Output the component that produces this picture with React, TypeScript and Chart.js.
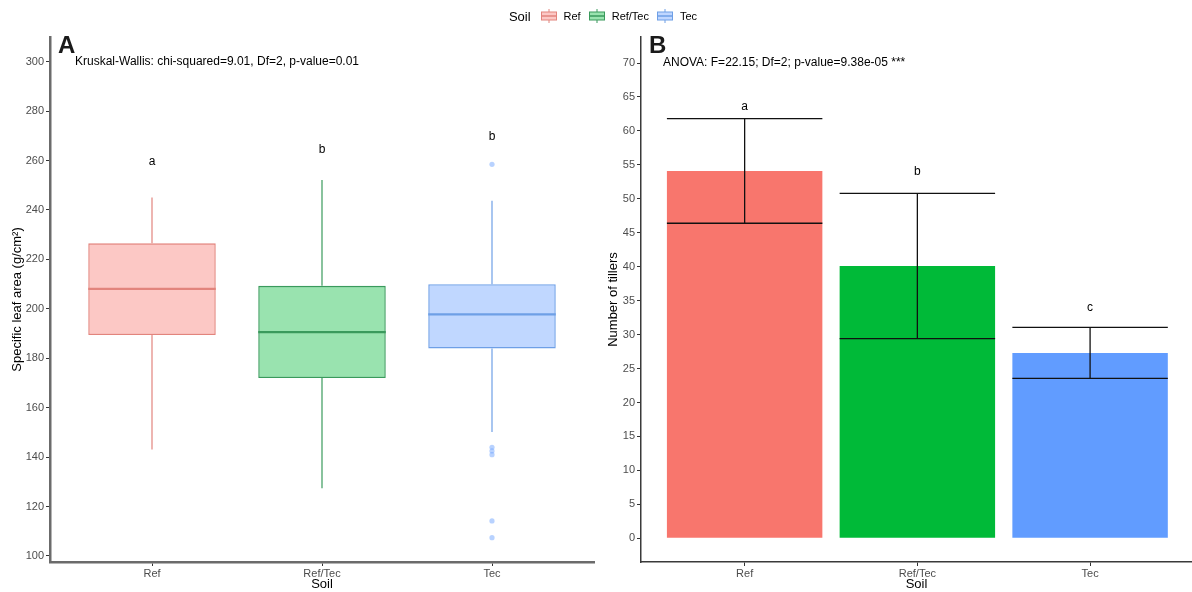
import { useEffect, useRef } from "react";
import { Chart, registerables } from "chart.js";

Chart.register(...registerables);

// Soil groups shared by both panels
const soils = ["Ref", "Ref/Tec", "Tec"];

// Panel A: specific leaf area box plot statistics (g/cm²)
const slaLowerWhisker = [143.1, 127.4, 150.2];
const slaQ1 = [189.4, 172.0, 184.0];
const slaMedian = [208.1, 190.6, 197.8];
const slaQ3 = [226.5, 209.3, 210.0];
const slaUpperWhisker = [245.1, 252.1, 243.7];
const slaOutliersTec = [258.5, 144.0, 142.5, 141.0, 114.2, 107.4];
const slaLetters = ["a", "b", "b"];
const slaLetterPos = [259.5, 264.6, 269.6];
const slaTicks = [100, 120, 140, 160, 180, 200, 220, 240, 260, 280, 300];

// Panel B: number of tillers, mean ± sd
const tillerMean = [54.1, 40.1, 27.3];
const tillerSd = [7.7, 10.7, 3.75];
const tillerLetters = ["a", "b", "c"];
const tillerLetterPos = [63.5, 54.0, 33.9];
const tillerTicks = [0, 5, 10, 15, 20, 25, 30, 35, 40, 45, 50, 55, 60, 65, 70];

const FONT = "'Liberation Sans', Arial, sans-serif";
const hue = ["#F8766D", "#00BA38", "#619CFF"];
const boxFill = ["rgba(248,118,109,0.4)", "rgba(0,186,56,0.4)", "rgba(97,156,255,0.4)"];
const boxLine = ["#E2847D", "#3A9A5C", "#6E9FE6"];

function line(ctx: CanvasRenderingContext2D, x1: number, y1: number, x2: number, y2: number) {
  ctx.beginPath();
  ctx.moveTo(x1, y1);
  ctx.lineTo(x2, y2);
  ctx.stroke();
}

function drawHeader(chart: any, tag: string, note: string, noteValue: number, noteOffset: number) {
  const ctx = chart.ctx as CanvasRenderingContext2D;
  const area = chart.chartArea;
  const y = chart.scales.y;
  ctx.save();
  ctx.fillStyle = "#1a1a1a";
  ctx.font = `bold 24px ${FONT}`;
  ctx.textAlign = "left";
  ctx.textBaseline = "middle";
  ctx.fillText(tag, area.left + 8, area.top + 9);
  ctx.fillStyle = "#000";
  ctx.font = `12px ${FONT}`;
  ctx.fillText(note, area.left + noteOffset, y.getPixelForValue(noteValue));
  ctx.restore();
}

function drawLetters(chart: any, letters: string[], pos: number[]) {
  const ctx = chart.ctx as CanvasRenderingContext2D;
  const x = chart.scales.x;
  const y = chart.scales.y;
  ctx.save();
  ctx.fillStyle = "#000";
  ctx.font = `12px ${FONT}`;
  ctx.textAlign = "center";
  ctx.textBaseline = "middle";
  letters.forEach((l, i) => ctx.fillText(l, x.getPixelForValue(i + 1), y.getPixelForValue(pos[i])));
  ctx.restore();
}

const boxDetails = {
  id: "boxDetails",
  afterDatasetsDraw(chart: any) {
    const ctx = chart.ctx as CanvasRenderingContext2D;
    const y = chart.scales.y;
    const meta = chart.getDatasetMeta(0);
    meta.data.forEach((bar: any, i: number) => {
      const cx = bar.x;
      const half = bar.width / 2;
      ctx.save();
      ctx.strokeStyle = boxLine[i];
      ctx.lineWidth = 1.2;
      line(ctx, cx, y.getPixelForValue(slaQ3[i]), cx, y.getPixelForValue(slaUpperWhisker[i]));
      line(ctx, cx, y.getPixelForValue(slaQ1[i]), cx, y.getPixelForValue(slaLowerWhisker[i]));
      ctx.lineWidth = 2.2;
      const ym = y.getPixelForValue(slaMedian[i]);
      line(ctx, cx - half, ym, cx + half, ym);
      ctx.restore();
    });
    drawLetters(chart, slaLetters, slaLetterPos);
    drawHeader(chart, "A", "Kruskal-Wallis: chi-squared=9.01, Df=2, p-value=0.01", 300, 25);
  },
};

const errorBars = {
  id: "errorBars",
  afterDatasetsDraw(chart: any) {
    const ctx = chart.ctx as CanvasRenderingContext2D;
    const y = chart.scales.y;
    const meta = chart.getDatasetMeta(0);
    ctx.save();
    ctx.strokeStyle = "#111";
    ctx.lineWidth = 1.3;
    meta.data.forEach((bar: any, i: number) => {
      const cx = bar.x;
      const half = bar.width / 2;
      const hi = y.getPixelForValue(tillerMean[i] + tillerSd[i]);
      const lo = y.getPixelForValue(tillerMean[i] - tillerSd[i]);
      line(ctx, cx - half, hi, cx + half, hi);
      line(ctx, cx - half, lo, cx + half, lo);
      line(ctx, cx, hi, cx, lo);
    });
    ctx.restore();
    drawLetters(chart, tillerLetters, tillerLetterPos);
    drawHeader(chart, "B", "ANOVA: F=22.15; Df=2; p-value=9.38e-05 ***", 70, 22);
  },
};

function categoryAxis(min: number, max: number, axisColor: string, axisWidth: number) {
  return {
    type: "linear" as const,
    min,
    max,
    offset: false,
    afterBuildTicks(axis: any) {
      axis.ticks = soils.map((_, i) => ({ value: i + 1 }));
    },
    afterFit(axis: any) {
      axis.height = 30;
    },
    grid: {
      display: true,
      offset: false,
      drawOnChartArea: false,
      drawTicks: true,
      tickLength: 4,
      color: "#333",
      lineWidth: 1,
    },
    border: { display: true, color: axisColor, width: axisWidth },
    ticks: {
      padding: 1,
      color: "#4D4D4D",
      font: { family: FONT, size: 11 },
      maxRotation: 0,
      autoSkip: false,
      callback: (v: any) => soils[Math.round(Number(v)) - 1] ?? "",
    },
    title: { display: true, text: "Soil", color: "#000", font: { family: FONT, size: 13 }, padding: { top: 0, bottom: 0 } },
  };
}

function valueAxis(min: number, max: number, ticks: number[], title: string, width: number, axisColor: string, axisWidth: number) {
  return {
    type: "linear" as const,
    min,
    max,
    afterBuildTicks(axis: any) {
      axis.ticks = ticks.map((value) => ({ value }));
    },
    afterFit(axis: any) {
      axis.width = width;
    },
    grid: { display: true, drawOnChartArea: false, drawTicks: true, tickLength: 4, color: "#333", lineWidth: 1 },
    border: { display: true, color: axisColor, width: axisWidth },
    ticks: { padding: 2, color: "#4D4D4D", font: { family: FONT, size: 11 }, autoSkip: false },
    title: { display: true, text: title, color: "#000", font: { family: FONT, size: 13 }, padding: { top: 4, bottom: 4 } },
  };
}

function LegendKey({ i }: { i: number }) {
  return (
    <svg width="18" height="14" style={{ display: "block" }}>
      <line x1="9" y1="0" x2="9" y2="3" stroke={boxLine[i]} strokeWidth="1" />
      <line x1="9" y1="11" x2="9" y2="14" stroke={boxLine[i]} strokeWidth="1" />
      <rect x="1.5" y="3" width="15" height="8" fill={boxFill[i]} stroke={boxLine[i]} strokeWidth="1" />
      <line x1="1.5" y1="7" x2="16.5" y2="7" stroke={boxLine[i]} strokeWidth="1.5" />
    </svg>
  );
}

export default function App() {
  const refA = useRef<HTMLCanvasElement>(null);
  const refB = useRef<HTMLCanvasElement>(null);

  useEffect(() => {
    const common = {
      responsive: false,
      animation: false as const,
      devicePixelRatio: 1,
      plugins: { legend: { display: false }, tooltip: { enabled: false } },
    };

    const chartA = new Chart(refA.current!, {
      type: "bar",
      data: {
        datasets: [
          {
            type: "bar",
            data: soils.map((_, i) => ({ x: i + 1, y: [slaQ1[i], slaQ3[i]] })) as any,
            backgroundColor: boxFill,
            borderColor: boxLine,
            borderWidth: 1.3,
            borderSkipped: false,
            barPercentage: 0.75,
            categoryPercentage: 1,
          },
          {
            type: "scatter",
            data: slaOutliersTec.map((v) => ({ x: 3, y: v })),
            backgroundColor: "rgba(97,156,255,0.45)",
            borderWidth: 0,
            pointRadius: 2.6,
          } as any,
        ],
      },
      options: {
        ...common,
        layout: { padding: { top: 37, left: 6, right: 0, bottom: 0 } },
        scales: {
          x: categoryAxis(0.4, 3.6, "#6b6b6b", 2.5),
          y: valueAxis(97.57, 310, slaTicks, "Specific leaf area (g/cm²)", 44, "#6b6b6b", 2.5),
        },
      } as any,
      plugins: [boxDetails],
    });

    const chartB = new Chart(refB.current!, {
      type: "bar",
      data: {
        datasets: [
          {
            data: soils.map((_, i) => ({ x: i + 1, y: tillerMean[i] })) as any,
            backgroundColor: hue,
            borderWidth: 0,
            barPercentage: 0.9,
            categoryPercentage: 1,
          },
        ],
      },
      options: {
        ...common,
        layout: { padding: { top: 37, left: 2, right: 0, bottom: 0 } },
        scales: {
          x: categoryAxis(0.4, 3.59, "#3a3a3a", 1.5),
          y: valueAxis(-3.49, 73.83, tillerTicks, "Number of tillers", 39, "#3a3a3a", 1.5),
        },
      } as any,
      plugins: [errorBars],
    });

    return () => {
      chartA.destroy();
      chartB.destroy();
    };
  }, []);

  return (
    <div style={{ position: "fixed", left: 0, top: 0, width: 1192, height: 592, background: "#fff", fontFamily: FONT }}>
      <div
        style={{
          position: "absolute",
          top: 7,
          left: 7,
          width: 1192,
          height: 18,
          display: "flex",
          justifyContent: "center",
          alignItems: "center",
        }}
      >
        <span style={{ fontSize: 13, color: "#000", marginRight: 9 }}>Soil</span>
        {soils.map((s, i) => (
          <div key={s} style={{ display: "flex", alignItems: "center", marginRight: i < soils.length - 1 ? 7 : 0 }}>
            <LegendKey i={i} />
            <span style={{ fontSize: 11, color: "#000", marginLeft: 6 }}>{s}</span>
          </div>
        ))}
      </div>
      <canvas ref={refA} width={598} height={592} style={{ position: "absolute", left: 0, top: 0 }} />
      <canvas ref={refB} width={592} height={592} style={{ position: "absolute", left: 600, top: 0 }} />
    </div>
  );
}
